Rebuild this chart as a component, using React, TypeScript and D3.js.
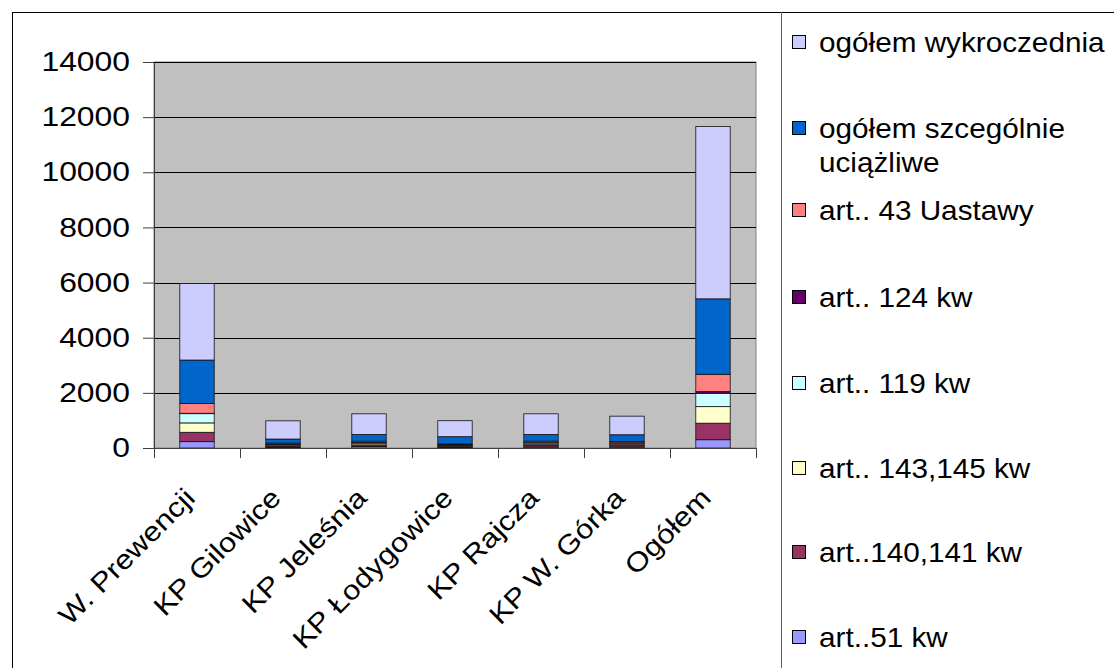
import { useEffect, useRef } from "react";
import * as d3 from "d3";

// categories (x axis)
const units = ["W. Prewencji", "KP Gilowice", "KP Jeleśnia", "KP Łodygowice", "KP Rajcza", "KP W. Górka", "Ogółem"];

// series, bottom of stack first
const art51 = [230, 30, 50, 25, 40, 40, 300];
const art140 = [340, 40, 50, 30, 55, 50, 600];
const art143 = [340, 40, 50, 35, 45, 50, 600];
const art119 = [335, 25, 40, 20, 45, 40, 485];
const art124 = [15, 5, 10, 5, 10, 10, 60];
const art43 = [350, 40, 50, 30, 55, 50, 630];
const szczegolnie = [1580, 145, 240, 265, 240, 240, 2735];
const wykroczenia = [2775, 660, 750, 580, 750, 675, 6250];

const seriesNames = [
  "art..51 kw",
  "art..140,141 kw",
  "art.. 143,145 kw",
  "art.. 119 kw",
  "art.. 124 kw",
  "art.. 43 Uastawy",
  "ogółem szcególnie uciążliwe",
  "ogółem wykroczednia",
];
const seriesColors = ["#9999FF", "#993366", "#FFFFCC", "#CCFFFF", "#660066", "#FF8080", "#0066CC", "#CCCCFF"];
const seriesValues = [art51, art140, art143, art119, art124, art43, szczegolnie, wykroczenia];

const yTicks = [0, 2000, 4000, 6000, 8000, 10000, 12000, 14000];

export default function App() {
  const ref = useRef<SVGSVGElement>(null);

  useEffect(() => {
    const svg = d3.select(ref.current);
    svg.selectAll("*").remove();
    const font = "'Liberation Sans', Arial, sans-serif";
    const fs = 27;

    // outer frame
    svg.append("rect").attr("x", 12.5).attr("y", 12.5).attr("width", 1114).attr("height", 700)
      .attr("fill", "white").attr("stroke", "black");

    const left = 154, right = 756, top = 62, bottom = 448;

    const x = d3.scaleBand().domain(units).range([left, right]).paddingInner(0.6).paddingOuter(0.3);
    const band = d3.scaleBand().domain(units).range([left, right]);
    const y = d3.scaleLinear().domain([0, 14000]).range([bottom, top]);

    // plot background
    svg.append("rect").attr("x", left).attr("y", top).attr("width", right - left).attr("height", bottom - top)
      .attr("fill", "#C0C0C0").attr("stroke", "#808080");

    // grid lines
    svg.append("g").selectAll("line").data(yTicks.slice(1)).join("line")
      .attr("x1", left).attr("x2", right)
      .attr("y1", d => Math.round(y(d)) + 0.5).attr("y2", d => Math.round(y(d)) + 0.5)
      .attr("stroke", "black").attr("stroke-width", 1);

    // stacked bars
    const rows = units.map((u, i) => {
      const r: any = { unit: u };
      seriesNames.forEach((n, k) => (r[n] = seriesValues[k][i]));
      return r;
    });
    const stacked = d3.stack().keys(seriesNames)(rows);
    svg.append("g").selectAll("g").data(stacked).join("g")
      .attr("fill", (d, k) => seriesColors[k])
      .selectAll("rect").data(d => d).join("rect")
      .attr("x", d => x(d.data.unit as string)!)
      .attr("width", x.bandwidth())
      .attr("y", d => y(d[1]))
      .attr("height", d => y(d[0]) - y(d[1]))
      .attr("stroke", "#111").attr("stroke-width", 0.8);

    // y axis (labels drawn a little wider, like the original rendering)
    const yAxis = svg.append("g").attr("transform", `translate(${left},0)`)
      .call(d3.axisLeft(y).tickValues(yTicks).tickFormat(d3.format("d")).tickSize(11).tickSizeOuter(0).tickPadding(13));
    yAxis.select(".domain").attr("stroke", "#404040");
    yAxis.selectAll("line").attr("stroke", "#404040");
    yAxis.selectAll("text")
      .attr("x", 0).attr("transform", "translate(-24,0) scale(1.18,1)")
      .attr("font-family", font).attr("font-size", fs).attr("fill", "black");

    // x axis
    svg.append("line").attr("x1", left).attr("x2", right).attr("y1", bottom + 0.5).attr("y2", bottom + 0.5)
      .attr("stroke", "#404040");
    svg.append("g").selectAll("line").data(units.map((u, i) => i).concat([units.length])).join("line")
      .attr("x1", i => Math.round(left + i * band.bandwidth()) + 0.5).attr("x2", i => Math.round(left + i * band.bandwidth()) + 0.5)
      .attr("y1", bottom).attr("y2", bottom + 10).attr("stroke", "#404040");
    svg.append("g").selectAll("text").data(units).join("text")
      .attr("transform", d => `translate(${band(d)! + band.bandwidth() / 2 - 7},${bottom + 45}) rotate(-45) scale(1.15,1)`)
      .attr("text-anchor", "end").attr("dominant-baseline", "central")
      .attr("font-family", font).attr("font-size", fs).text(d => d);

    // legend
    svg.append("line").attr("x1", 781.5).attr("x2", 781.5).attr("y1", 12).attr("y2", 668).attr("stroke", "#606060");
    const legendY = [42, 128, 210, 297, 383, 468, 552, 637];
    const lg = svg.append("g");
    const order = seriesNames.map((n, k) => k).reverse();
    order.forEach((k, j) => {
      const yy = legendY[j];
      lg.append("rect").attr("x", 792.5).attr("y", yy - 6.5).attr("width", 13).attr("height", 13)
        .attr("fill", seriesColors[k]).attr("stroke", "black");
      const t = lg.append("text").attr("transform", `translate(819,${yy}) scale(1.1,1)`)
        .attr("dominant-baseline", "central")
        .attr("font-family", font).attr("font-size", fs);
      if (seriesNames[k] === "ogółem szcególnie uciążliwe") {
        t.append("tspan").attr("x", 0).text("ogółem szcególnie");
        t.append("tspan").attr("x", 0).attr("dy", 34).text("uciążliwe");
      } else {
        t.text(seriesNames[k]);
      }
    });
  }, []);

  return (
    <svg ref={ref} width={1114} height={668} style={{ position: "absolute", left: 0, top: 0, background: "white" }} />
  );
}
